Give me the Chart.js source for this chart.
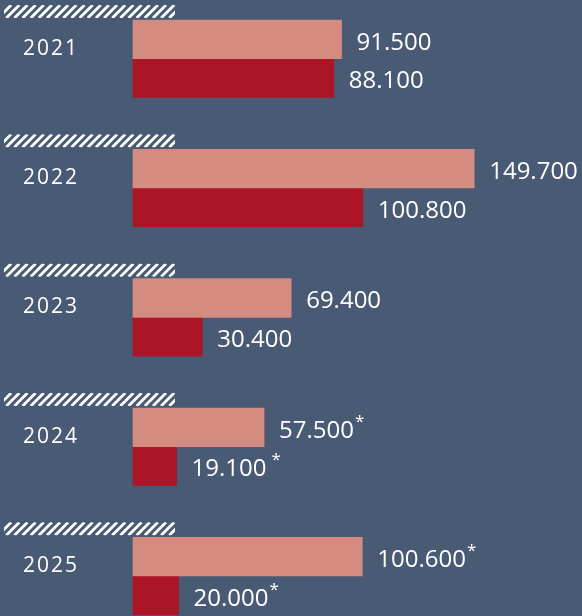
<!DOCTYPE html>
<html>
<head>
<meta charset="utf-8">
<script src="https://cdn.jsdelivr.net/npm/chart.js@4"></script>
<style>
  html, body { margin: 0; padding: 0; background: #495a75; }
  #wrap { width: 582px; height: 616px; position: relative; }
</style>
</head>
<body>
<div id="wrap"><canvas id="barChart"></canvas></div>
<script>
// chart data (values in thousands)
const years = ['2021', '2022', '2023', '2024', '2025'];
const upperValues = [91.5, 149.7, 69.4, 57.5, 100.6];
const lowerValues = [88.1, 100.8, 30.4, 19.1, 20.0];
const estimated = [false, false, false, true, true];

const barSize = 38.7;

// german number format: 91.5 -> "91.500"
function formatValue(v) {
  return Math.round(v * 1000).toLocaleString('de-DE');
}

// draws hatch strips, year labels and value labels
const decorPlugin = {
  id: 'decor',
  afterDatasetsDraw(chart) {
    const ctx = chart.ctx;
    const yScale = chart.scales.y;
    ctx.save();
    ctx.fillStyle = '#ffffff';
    ctx.textBaseline = 'middle';

    years.forEach((yr, i) => {
      const cy = yScale.getPixelForValue(i);
      const top = cy - barSize;

      // hatched strip above each year
      ctx.save();
      ctx.beginPath();
      ctx.rect(4, top - 15, 171, 13);
      ctx.clip();
      ctx.strokeStyle = '#ffffff';
      ctx.lineWidth = 2.8;
      ctx.beginPath();
      for (let x = -10; x < 190; x += 8.15) {
        ctx.moveTo(x, top - 2);
        ctx.lineTo(x + 13, top - 15);
      }
      ctx.stroke();
      ctx.restore();

      // year label
      ctx.font = '21px "Open Sans"';
      ctx.letterSpacing = '2px';
      ctx.textAlign = 'left';
      ctx.fillText(yr, 23, cy - 10);
    });

    ctx.letterSpacing = '0px';
    chart.data.datasets.forEach((ds, di) => {
      const meta = chart.getDatasetMeta(di);
      meta.data.forEach((bar, i) => {
        const txt = formatValue(ds.data[i]);
        const x = bar.x + 15;
        const y = bar.y + 3.5;
        ctx.font = '24px "Open Sans"';
        ctx.fillText(txt, x, y);
        if (estimated[i]) {
          const w = ctx.measureText(txt).width;
          const gap = (di === 1 && i === 3) ? 5 : 1;
          ctx.font = '17px "Open Sans"';
          ctx.fillText('*', x + w + gap, y - 9);
        }
      });
    });
    ctx.restore();
  }
};

const config = {
  type: 'bar',
  data: {
    labels: years,
    datasets: [
      { label: 'upper', data: upperValues, backgroundColor: '#d48b80' },
      { label: 'lower', data: lowerValues, backgroundColor: '#ab1526' }
    ]
  },
  options: {
    indexAxis: 'y',
    responsive: true,
    maintainAspectRatio: false,
    animation: false,
    layout: { padding: { left: 133, right: 0, top: 58.7, bottom: 40 } },
    datasets: { bar: { barThickness: barSize, borderWidth: 0, clip: false } },
    scales: {
      x: { display: false, min: 0, max: 197 },
      y: { display: false, offset: false }
    },
    plugins: {
      legend: { display: false },
      tooltip: { enabled: false }
    }
  },
  plugins: [decorPlugin]
};

new Chart(document.getElementById('barChart').getContext('2d'), config);
</script>
</body>
</html>
